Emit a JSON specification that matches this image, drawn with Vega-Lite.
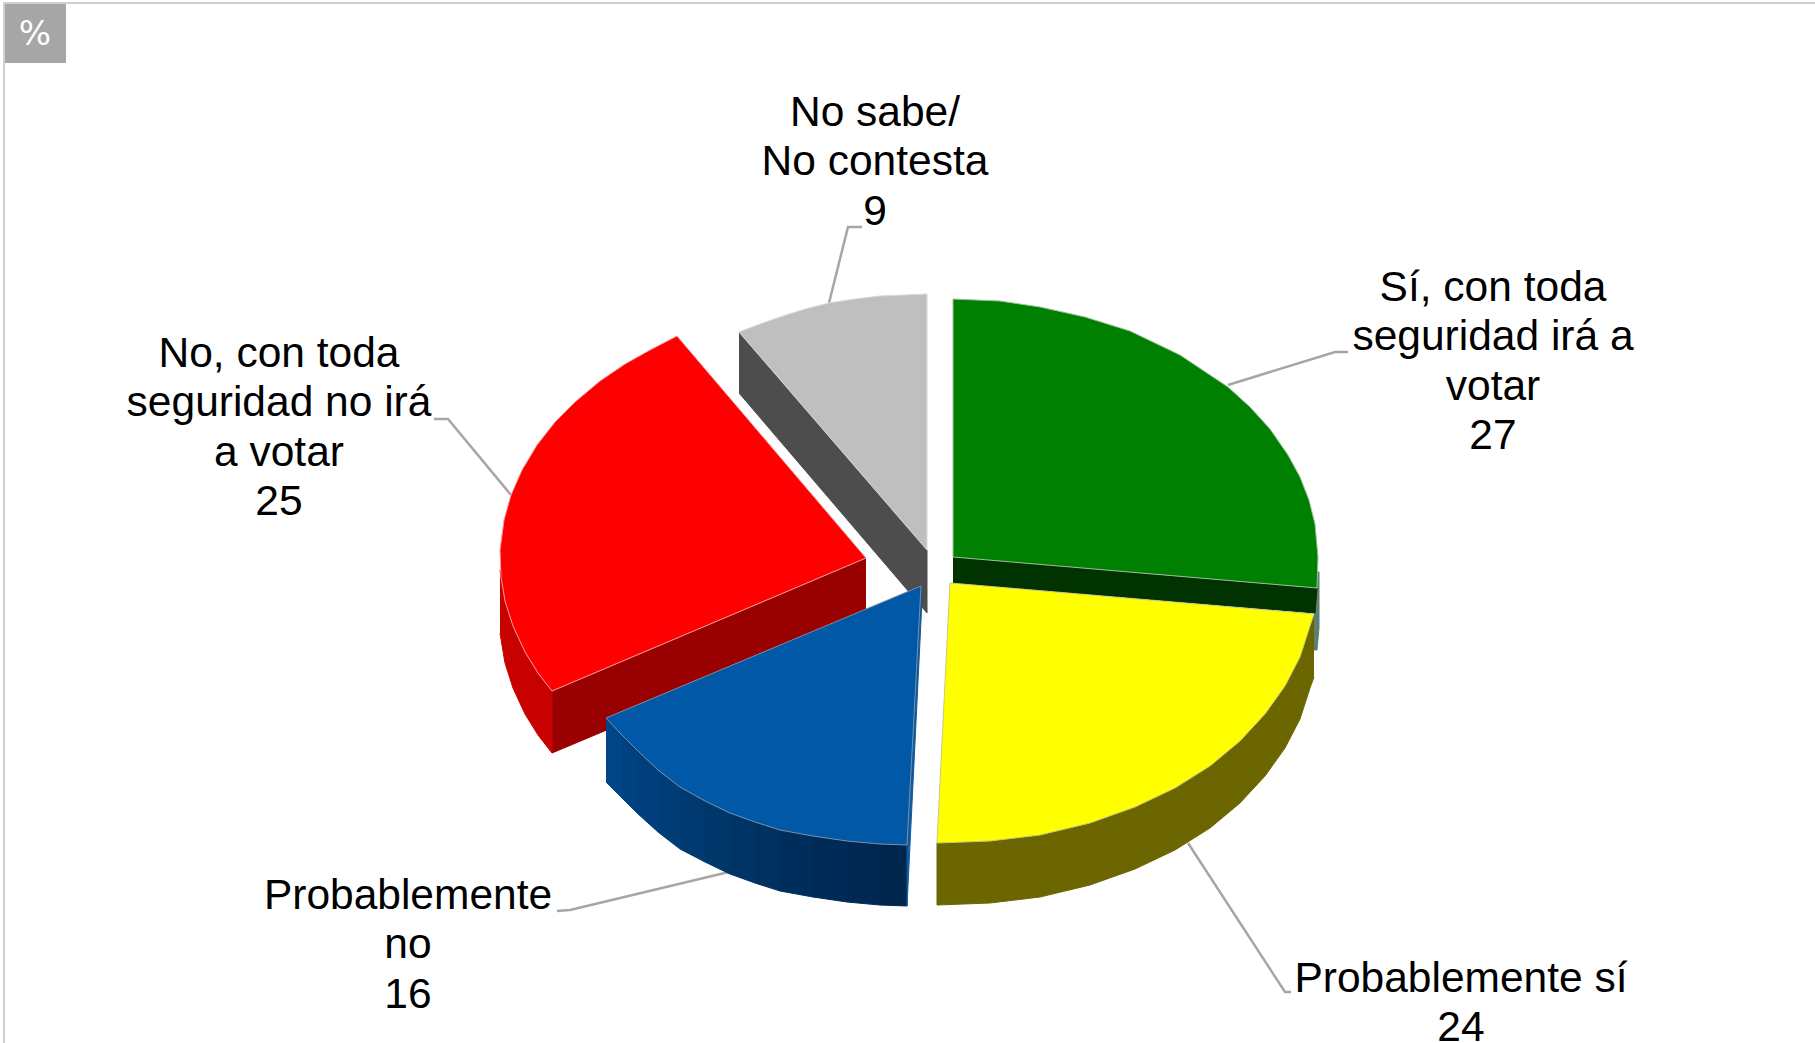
{"$schema":"https://vega.github.io/schema/vega-lite/v6.json","autosize":{"type":"none"},"width":1815,"height":1043,"padding":0,"background":"#ffffff","view":{"stroke":null},"config":{"axis":{"disable":true}},
"datasets":{
"shapes":[
{"part":"gray wall","i":1,"x":739,"y":332},{"part":"gray wall","i":2,"x":927,"y":550},{"part":"gray wall","i":3,"x":927,"y":613},{"part":"gray wall","i":4,"x":739,"y":393},
{"part":"gray top","i":1,"x":927,"y":550},{"part":"gray top","i":2,"x":739,"y":332},{"part":"gray top","i":3,"x":760,"y":324},{"part":"gray top","i":4,"x":780,"y":317},{"part":"gray top","i":5,"x":805,"y":309},{"part":"gray top","i":6,"x":829,"y":303},{"part":"gray top","i":7,"x":855,"y":299},{"part":"gray top","i":8,"x":880,"y":296},{"part":"gray top","i":9,"x":905,"y":295},{"part":"gray top","i":10,"x":927,"y":294},{"part":"gray top","i":11,"x":927,"y":550},
{"part":"red inner","i":1,"x":866,"y":558},{"part":"red inner","i":2,"x":552,"y":691},{"part":"red inner","i":3,"x":552,"y":753},{"part":"red inner","i":4,"x":866,"y":621},
{"part":"red outer","i":1,"x":500,"y":570},{"part":"red outer","i":2,"x":501,"y":577},{"part":"red outer","i":3,"x":505,"y":601},{"part":"red outer","i":4,"x":513,"y":626},{"part":"red outer","i":5,"x":525,"y":652},{"part":"red outer","i":6,"x":538,"y":673},{"part":"red outer","i":7,"x":552,"y":691},{"part":"red outer","i":8,"x":552,"y":753},{"part":"red outer","i":9,"x":538,"y":735},{"part":"red outer","i":10,"x":525,"y":714},{"part":"red outer","i":11,"x":513,"y":688},{"part":"red outer","i":12,"x":505,"y":663},{"part":"red outer","i":13,"x":500,"y":633},
{"part":"red top","i":1,"x":866,"y":558},{"part":"red top","i":2,"x":677,"y":336},{"part":"red top","i":3,"x":650,"y":350},{"part":"red top","i":4,"x":625,"y":364},{"part":"red top","i":5,"x":600,"y":381},{"part":"red top","i":6,"x":575,"y":402},{"part":"red top","i":7,"x":555,"y":422},{"part":"red top","i":8,"x":537,"y":445},{"part":"red top","i":9,"x":522,"y":470},{"part":"red top","i":10,"x":511,"y":495},{"part":"red top","i":11,"x":504,"y":520},{"part":"red top","i":12,"x":500,"y":550},{"part":"red top","i":13,"x":501,"y":577},{"part":"red top","i":14,"x":505,"y":601},{"part":"red top","i":15,"x":513,"y":626},{"part":"red top","i":16,"x":525,"y":652},{"part":"red top","i":17,"x":538,"y":673},{"part":"red top","i":18,"x":552,"y":691},{"part":"red top","i":19,"x":866,"y":558},
{"part":"blue wall a","i":1,"x":606,"y":718},{"part":"blue wall a","i":2,"x":622,"y":735},{"part":"blue wall a","i":3,"x":622,"y":798},{"part":"blue wall a","i":4,"x":606,"y":782},
{"part":"blue wall b","i":1,"x":622,"y":735},{"part":"blue wall b","i":2,"x":637,"y":750},{"part":"blue wall b","i":3,"x":637,"y":813},{"part":"blue wall b","i":4,"x":622,"y":798},
{"part":"blue wall c","i":1,"x":637,"y":750},{"part":"blue wall c","i":2,"x":658,"y":770},{"part":"blue wall c","i":3,"x":658,"y":832},{"part":"blue wall c","i":4,"x":637,"y":813},
{"part":"blue wall d","i":1,"x":658,"y":770},{"part":"blue wall d","i":2,"x":680,"y":787},{"part":"blue wall d","i":3,"x":680,"y":849},{"part":"blue wall d","i":4,"x":658,"y":832},
{"part":"blue wall e","i":1,"x":680,"y":787},{"part":"blue wall e","i":2,"x":705,"y":801},{"part":"blue wall e","i":3,"x":705,"y":862},{"part":"blue wall e","i":4,"x":680,"y":849},
{"part":"blue wall f","i":1,"x":705,"y":801},{"part":"blue wall f","i":2,"x":730,"y":813},{"part":"blue wall f","i":3,"x":730,"y":874},{"part":"blue wall f","i":4,"x":705,"y":862},
{"part":"blue wall g","i":1,"x":730,"y":813},{"part":"blue wall g","i":2,"x":755,"y":822},{"part":"blue wall g","i":3,"x":755,"y":883},{"part":"blue wall g","i":4,"x":730,"y":874},
{"part":"blue wall h","i":1,"x":755,"y":822},{"part":"blue wall h","i":2,"x":780,"y":830},{"part":"blue wall h","i":3,"x":780,"y":891},{"part":"blue wall h","i":4,"x":755,"y":883},
{"part":"blue wall i","i":1,"x":780,"y":830},{"part":"blue wall i","i":2,"x":813,"y":836},{"part":"blue wall i","i":3,"x":813,"y":897},{"part":"blue wall i","i":4,"x":780,"y":891},
{"part":"blue wall j","i":1,"x":813,"y":836},{"part":"blue wall j","i":2,"x":847,"y":841},{"part":"blue wall j","i":3,"x":847,"y":902},{"part":"blue wall j","i":4,"x":813,"y":897},
{"part":"blue wall k","i":1,"x":847,"y":841},{"part":"blue wall k","i":2,"x":880,"y":844},{"part":"blue wall k","i":3,"x":880,"y":905},{"part":"blue wall k","i":4,"x":847,"y":902},
{"part":"blue wall l","i":1,"x":880,"y":844},{"part":"blue wall l","i":2,"x":907,"y":845},{"part":"blue wall l","i":3,"x":907,"y":906},{"part":"blue wall l","i":4,"x":880,"y":905},
{"part":"blue sliver","i":1,"x":921,"y":586},{"part":"blue sliver","i":2,"x":907,"y":845},{"part":"blue sliver","i":3,"x":907,"y":906},{"part":"blue sliver","i":4,"x":922,"y":600},
{"part":"blue top","i":1,"x":921,"y":586},{"part":"blue top","i":2,"x":606,"y":718},{"part":"blue top","i":3,"x":622,"y":735},{"part":"blue top","i":4,"x":637,"y":750},{"part":"blue top","i":5,"x":658,"y":770},{"part":"blue top","i":6,"x":680,"y":787},{"part":"blue top","i":7,"x":705,"y":801},{"part":"blue top","i":8,"x":730,"y":813},{"part":"blue top","i":9,"x":755,"y":822},{"part":"blue top","i":10,"x":780,"y":830},{"part":"blue top","i":11,"x":813,"y":836},{"part":"blue top","i":12,"x":847,"y":841},{"part":"blue top","i":13,"x":880,"y":844},{"part":"blue top","i":14,"x":907,"y":845},{"part":"blue top","i":15,"x":921,"y":586},
{"part":"green sliver","i":1,"x":1317,"y":572},{"part":"green sliver","i":2,"x":1319,"y":572},{"part":"green sliver","i":3,"x":1319,"y":628},{"part":"green sliver","i":4,"x":1317,"y":650},{"part":"green sliver","i":5,"x":1314,"y":650},{"part":"green sliver","i":6,"x":1314,"y":613},
{"part":"green wall","i":1,"x":953,"y":557},{"part":"green wall","i":2,"x":1317,"y":588},{"part":"green wall","i":3,"x":1315,"y":613},{"part":"green wall","i":4,"x":953,"y":583},
{"part":"green top","i":1,"x":953,"y":557},{"part":"green top","i":2,"x":953,"y":299},{"part":"green top","i":3,"x":1000,"y":301},{"part":"green top","i":4,"x":1040,"y":307},{"part":"green top","i":5,"x":1085,"y":317},{"part":"green top","i":6,"x":1130,"y":331},{"part":"green top","i":7,"x":1180,"y":355},{"part":"green top","i":8,"x":1228,"y":387},{"part":"green top","i":9,"x":1250,"y":407},{"part":"green top","i":10,"x":1270,"y":429},{"part":"green top","i":11,"x":1288,"y":455},{"part":"green top","i":12,"x":1300,"y":477},{"part":"green top","i":13,"x":1309,"y":500},{"part":"green top","i":14,"x":1315,"y":524},{"part":"green top","i":15,"x":1318,"y":557},{"part":"green top","i":16,"x":1317,"y":588},{"part":"green top","i":17,"x":953,"y":557},
{"part":"yellow wall","i":1,"x":1314,"y":614},{"part":"yellow wall","i":2,"x":1310,"y":626},{"part":"yellow wall","i":3,"x":1300,"y":657},{"part":"yellow wall","i":4,"x":1285,"y":686},{"part":"yellow wall","i":5,"x":1265,"y":714},{"part":"yellow wall","i":6,"x":1240,"y":741},{"part":"yellow wall","i":7,"x":1210,"y":766},{"part":"yellow wall","i":8,"x":1175,"y":788},{"part":"yellow wall","i":9,"x":1135,"y":807},{"part":"yellow wall","i":10,"x":1090,"y":823},{"part":"yellow wall","i":11,"x":1040,"y":835},{"part":"yellow wall","i":12,"x":990,"y":841},{"part":"yellow wall","i":13,"x":937,"y":843},{"part":"yellow wall","i":14,"x":937,"y":905},{"part":"yellow wall","i":15,"x":990,"y":903},{"part":"yellow wall","i":16,"x":1040,"y":897},{"part":"yellow wall","i":17,"x":1090,"y":885},{"part":"yellow wall","i":18,"x":1135,"y":869},{"part":"yellow wall","i":19,"x":1175,"y":850},{"part":"yellow wall","i":20,"x":1210,"y":828},{"part":"yellow wall","i":21,"x":1240,"y":803},{"part":"yellow wall","i":22,"x":1265,"y":776},{"part":"yellow wall","i":23,"x":1285,"y":748},{"part":"yellow wall","i":24,"x":1300,"y":719},{"part":"yellow wall","i":25,"x":1310,"y":688},{"part":"yellow wall","i":26,"x":1314,"y":677},
{"part":"yellow top","i":1,"x":950,"y":583},{"part":"yellow top","i":2,"x":1314,"y":614},{"part":"yellow top","i":3,"x":1310,"y":626},{"part":"yellow top","i":4,"x":1300,"y":657},{"part":"yellow top","i":5,"x":1285,"y":686},{"part":"yellow top","i":6,"x":1265,"y":714},{"part":"yellow top","i":7,"x":1240,"y":741},{"part":"yellow top","i":8,"x":1210,"y":766},{"part":"yellow top","i":9,"x":1175,"y":788},{"part":"yellow top","i":10,"x":1135,"y":807},{"part":"yellow top","i":11,"x":1090,"y":823},{"part":"yellow top","i":12,"x":1040,"y":835},{"part":"yellow top","i":13,"x":990,"y":841},{"part":"yellow top","i":14,"x":937,"y":843},{"part":"yellow top","i":15,"x":950,"y":583}
],
"leaders":[
{"name":"green","i":1,"x":1228,"y":385},{"name":"green","i":2,"x":1335,"y":352},{"name":"green","i":3,"x":1348,"y":352},
{"name":"yellow","i":1,"x":1188,"y":843},{"name":"yellow","i":2,"x":1285,"y":992},{"name":"yellow","i":3,"x":1291,"y":992},
{"name":"blue","i":1,"x":733,"y":871},{"name":"blue","i":2,"x":570,"y":910},{"name":"blue","i":3,"x":557,"y":911},
{"name":"red","i":1,"x":511,"y":495},{"name":"red","i":2,"x":448,"y":419},{"name":"red","i":3,"x":434,"y":419},
{"name":"gray","i":1,"x":829,"y":303},{"name":"gray","i":2,"x":848,"y":227},{"name":"gray","i":3,"x":862,"y":227}
],
"labels":[
{"label":"Sí, con toda\nseguridad irá a\nvotar\n27","value":27,"x":1493,"y":288},
{"label":"Probablemente sí\n24","value":24,"x":1461,"y":979},
{"label":"Probablemente\nno\n16","value":16,"x":408,"y":896},
{"label":"No, con toda\nseguridad no irá\na votar\n25","value":25,"x":279,"y":354},
{"label":"No sabe/\nNo contesta\n9","value":9,"x":875,"y":113}
],
"frame":[{"i":1,"x":4,"y":1043},{"i":2,"x":4,"y":3},{"i":3,"x":1815,"y":3}]
},
"layer":[
{"data":{"name":"frame"},"mark":{"type":"line","stroke":"#d0d0d0","strokeWidth":2},"encoding":{"x":{"field":"x","type":"quantitative","scale":{"domain":[0,1815],"nice":false},"axis":null},"y":{"field":"y","type":"quantitative","scale":{"domain":[1043,0],"nice":false},"axis":null},"order":{"field":"i"}}},
{"data":{"values":[{"x":5,"x2":66,"y":4,"y2":63}]},"mark":{"type":"rect","fill":"#a6a6a6"},"encoding":{"x":{"field":"x","type":"quantitative"},"x2":{"field":"x2"},"y":{"field":"y","type":"quantitative"},"y2":{"field":"y2"}}},
{"data":{"values":[{"t":"%","x":35,"y":35}]},"mark":{"type":"text","fill":"#ffffff","font":"DejaVu Sans","fontSize":34,"align":"center","baseline":"middle"},"encoding":{"x":{"field":"x","type":"quantitative"},"y":{"field":"y","type":"quantitative"},"text":{"field":"t"}}},
{"data":{"name":"leaders"},"mark":{"type":"line","stroke":"#a6a6a6","strokeWidth":2.5},"encoding":{"x":{"field":"x","type":"quantitative"},"y":{"field":"y","type":"quantitative"},"detail":{"field":"name"},"order":{"field":"i"}}},
{"data":{"name":"shapes"},"mark":{"type":"line","filled":true,"strokeWidth":1,"strokeJoin":"round"},"encoding":{"x":{"field":"x","type":"quantitative"},"y":{"field":"y","type":"quantitative"},"order":{"field":"i"},"detail":{"field":"part"},
"fill":{"field":"part","type":"nominal","legend":null,"scale":{"domain":["gray wall","gray top","red inner","red outer","red top","blue wall a","blue wall b","blue wall c","blue wall d","blue wall e","blue wall f","blue wall g","blue wall h","blue wall i","blue wall j","blue wall k","blue wall l","blue sliver","blue top","green sliver","green wall","green top","yellow wall","yellow top"],"range":["#4d4d4d","#bfbfbf","#990000","#c80000","#ff0000","#004585","#004281","#003f7c","#003c76","#003a71","#00376b","#003466","#003161","#002e5c","#002b57","#002852","#00264e","#0f5a9e","#0058a6","#5f7f70","#003300","#008000","#6b6600","#ffff00"]}},
"stroke":{"field":"part","type":"nominal","legend":null,"scale":{"domain":["gray wall","gray top","red inner","red outer","red top","blue wall a","blue wall b","blue wall c","blue wall d","blue wall e","blue wall f","blue wall g","blue wall h","blue wall i","blue wall j","blue wall k","blue wall l","blue sliver","blue top","green sliver","green wall","green top","yellow wall","yellow top"],"range":["#4d4d4d","#d8d8d8","#990000","#c80000","#f4a0a0","#004585","#004281","#003f7c","#003c76","#003a71","#00376b","#003466","#003161","#002e5c","#002b57","#002852","#00264e","#0f5a9e","#7a8fa6","#5f7f70","#003300","#9fbf9f","#6b6600","#c8c880"]}}}},
{"data":{"name":"labels"},"mark":{"type":"text","font":"Liberation Sans","fontSize":42.5,"lineHeight":49.4,"lineBreak":"\n","align":"center","baseline":"middle","fill":"#000000"},"encoding":{"x":{"field":"x","type":"quantitative"},"y":{"field":"y","type":"quantitative"},"text":{"field":"label"}}}
]}
